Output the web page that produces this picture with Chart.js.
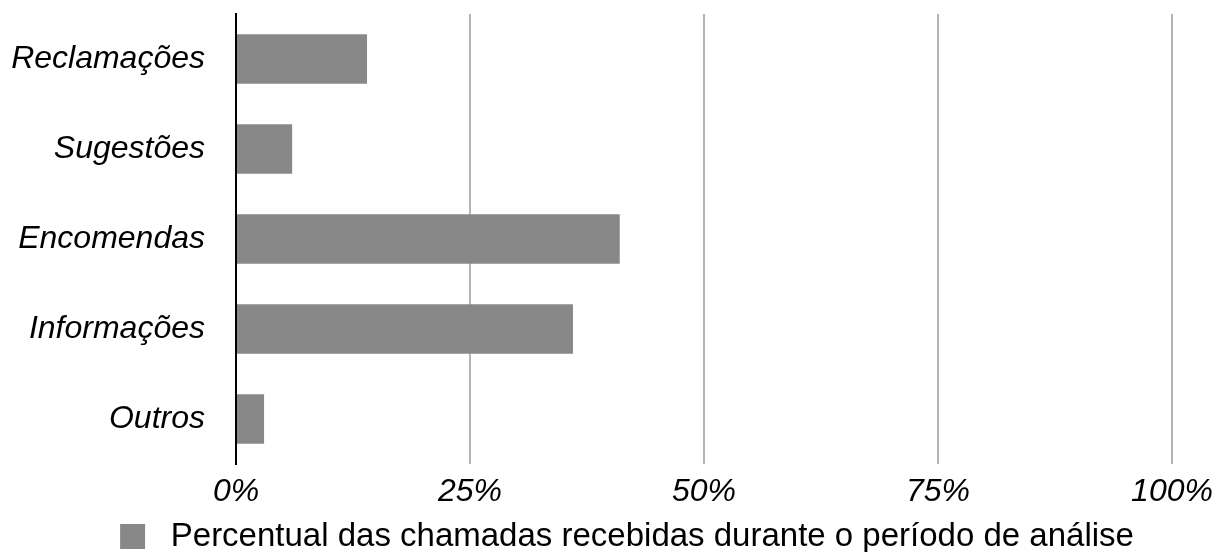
<!DOCTYPE html>
<html>
<head>
<meta charset="utf-8">
<script src="https://cdn.jsdelivr.net/npm/chart.js@4.4.0/dist/chart.umd.min.js"></script>
<style>
  html, body { margin: 0; padding: 0; background: #fff; }
  #wrap { width: 1216px; height: 552px; }
</style>
</head>
<body>
<div id="wrap"><canvas id="chart"></canvas></div>
<script>
const categories = ["Reclamações", "Sugestões", "Encomendas", "Informações", "Outros"];
const percentValues = [14, 6, 41, 36, 3];
const seriesLabel = "Percentual das chamadas recebidas durante o período de análise";
const xTicks = [0, 25, 50, 75, 100];

const FONT = '"Liberation Sans", Arial, Helvetica, sans-serif';

// nudge the legend to the right, like the original
const legendShift = {
  id: "legendShift",
  afterLayout(chart) {
    chart.legend.left += 41;
    chart.legend.right += 41;
  }
};

new Chart(document.getElementById("chart"), {
  type: "bar",
  data: {
    labels: categories,
    datasets: [{
      label: seriesLabel,
      data: percentValues,
      backgroundColor: "#878887",
      barPercentage: 0.55,
      categoryPercentage: 1
    }]
  },
  options: {
    indexAxis: "y",
    responsive: true,
    maintainAspectRatio: false,
    animation: false,
    layout: { padding: { top: 14, left: 0, right: 44, bottom: -11 } },
    scales: {
      x: {
        min: 0,
        max: 100,
        afterBuildTicks: (axis) => { axis.ticks = xTicks.map((v) => ({ value: v })); },
        afterFit: (scale) => { scale.paddingLeft = 0; scale.paddingRight = 0; },
        grid: {
          color: (ctx) => (ctx.tick && ctx.tick.value === 0 ? "rgba(0,0,0,0)" : "#b4b4b4"),
          lineWidth: 2,
          drawTicks: false
        },
        border: { display: false },
        ticks: {
          padding: 12,
          color: "#000",
          font: { family: FONT, size: 32, style: "italic", lineHeight: 1 },
          callback: (v) => v + "%"
        }
      },
      y: {
        afterFit: (scale) => { scale.width = 236; scale.paddingTop = 0; scale.paddingBottom = 0; },
        grid: { display: false, drawTicks: false },
        border: { display: true, color: "#000", width: 2 },
        ticks: {
          padding: 31,
          color: "#000",
          font: { family: FONT, size: 32, style: "italic" }
        }
      }
    },
    plugins: {
      legend: {
        position: "bottom",
        labels: {
          color: "#000",
          boxWidth: 25,
          boxHeight: 25,
          padding: 0,
          font: { family: FONT, size: 33, lineHeight: 1 },
          generateLabels: (chart) => {
            const items = Chart.defaults.plugins.legend.labels.generateLabels(chart);
            items.forEach((it) => { it.text = " " + it.text; it.lineWidth = 0; });
            return items;
          }
        }
      },
      tooltip: { enabled: false }
    }
  },
  plugins: [legendShift]
});
</script>
</body>
</html>
